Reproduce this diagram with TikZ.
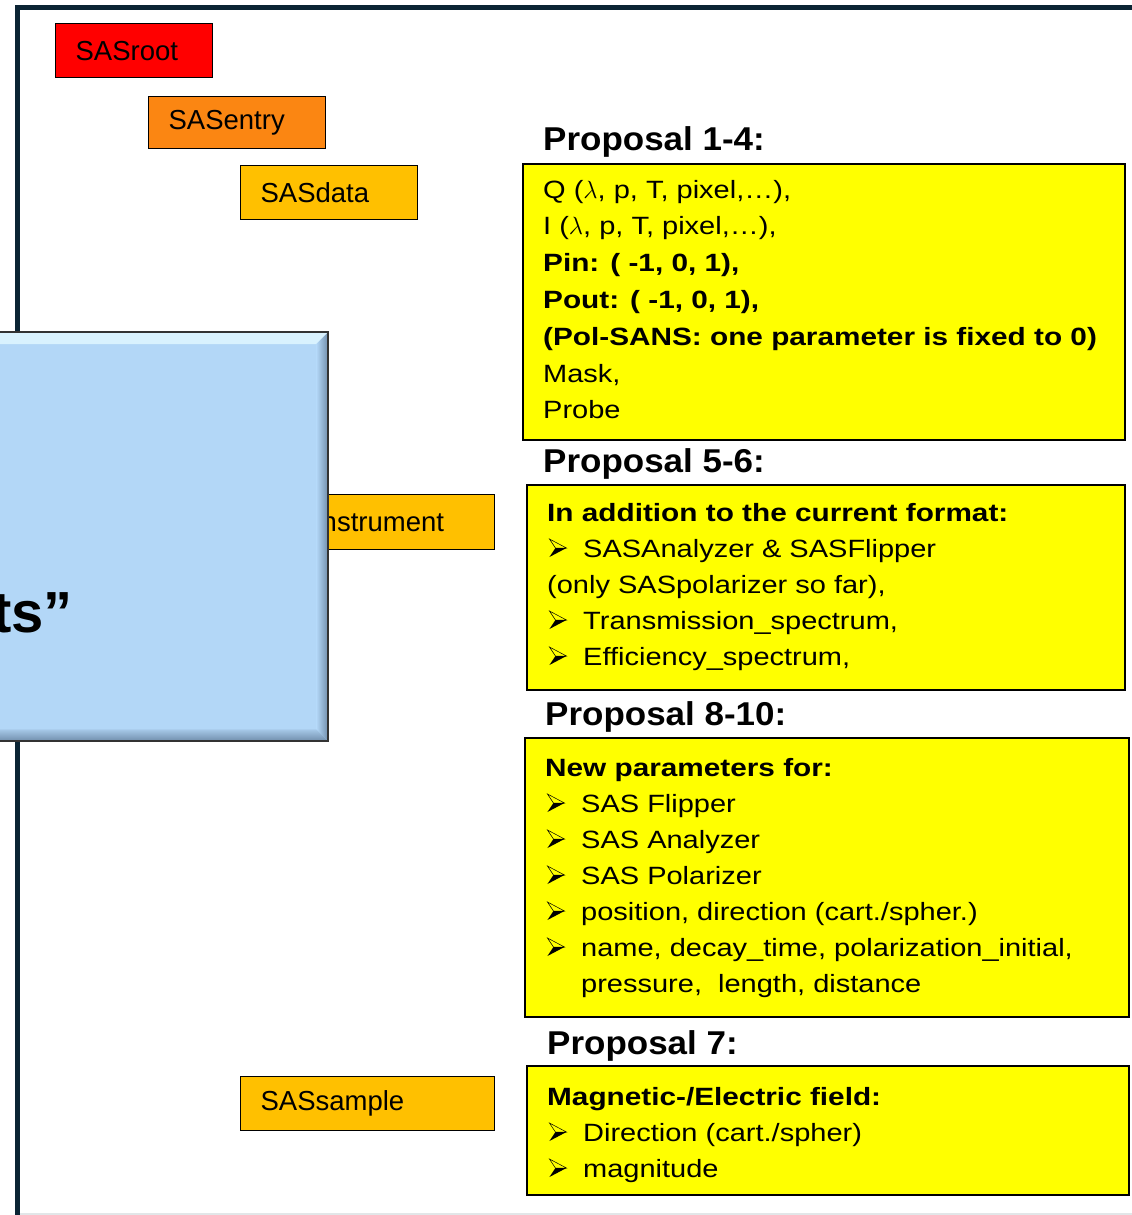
\documentclass[tikz,border=0pt]{standalone}
\usepackage{fontspec}
\setmainfont{Liberation Sans}
\newfontfamily\bodyfont{Liberation Sans}[FakeStretch=1.16, BoldFeatures={FakeStretch=1.19}]
\newfontfamily\headfont{Liberation Sans}[FakeStretch=1.06]
\definecolor{framenavy}{HTML}{0B2434}
\definecolor{rootred}{HTML}{FF0000}
\definecolor{entryorange}{HTML}{FB8612}
\definecolor{gold}{HTML}{FFC000}
\definecolor{noteyellow}{HTML}{FFFF00}
\definecolor{panelblue}{HTML}{B3D7F7}
\definecolor{panellight}{HTML}{D9F2FE}
\definecolor{paneldark}{HTML}{6F8CAA}
\definecolor{rulegray}{HTML}{E2E6E8}
% three-d arrowhead bullet: outlined upper half, filled lower half
\newcommand{\arrowhead}{\tikz[baseline=0pt, x=1pt, y=1pt]{%
  \fill[black] (6,9) -- (17,9) -- (0,0) -- cycle;
  \draw[black, line width=0.5pt, line join=miter] (0,18) -- (17,9) -- (6,9) -- cycle;}}
\newcommand{\bul}{\makebox[36pt][l]{\hspace{2pt}\arrowhead}}
\begin{document}
\begin{tikzpicture}[x=1pt,y=-1pt,
  tag/.style={draw=black, line width=1.2pt, anchor=north west, inner xsep=20pt,
    inner ysep=0pt, align=left, font=\fontsize{27.5}{30}\selectfont, text=black},
  notebox/.style={draw=black, line width=1.5pt, fill=noteyellow, anchor=north west,
    inner sep=0pt},
  notetext/.style={anchor=base west, inner sep=0pt, font=\bodyfont\fontsize{25}{36}\selectfont},
  heading/.style={anchor=base west, inner sep=0pt, font=\headfont\bfseries\fontsize{33}{36}\selectfont}]
\useasboundingbox (0,0) rectangle (1132,1215);

% page frame
\draw[framenavy, line width=5pt] (17.5,1215) -- (17.5,7.5) -- (1132,7.5);
\draw[rulegray, line width=2pt] (20,1213.5) -- (1132,1213.5);

% class tags
\node[tag, fill=rootred, text width=117pt, minimum height=54pt] (root) at (55,23) {SASroot};
\node[tag, fill=entryorange, text width=137pt, minimum height=52pt] (entry) at (148,96) {SASentry};
\node[tag, fill=gold, text width=137pt, minimum height=54pt] (data) at (240,165) {SASdata};
\node[tag, fill=gold, text width=214pt, minimum height=55pt] (instr) at (240,494) {SASinstrument};
\node[tag, fill=gold, text width=214pt, minimum height=54pt] (sample) at (240,1076) {SASsample};

% bevelled panel
\node[draw=none, fill=panelblue, anchor=north west, minimum width=338pt, minimum height=409pt,
  inner sep=0pt] (panel) at (-10,332) {};
\fill[panellight] (panel.north west) -- (panel.north east) -- ([xshift=-12pt,yshift=-12pt]panel.north east)
  -- ([yshift=-12pt]panel.north west) -- cycle;
\shade[left color=panelblue, right color=paneldark] ([xshift=-12pt,yshift=-12pt]panel.north east)
  -- (panel.north east) -- (panel.south east) -- ([xshift=-12pt,yshift=12pt]panel.south east) -- cycle;
\shade[top color=panelblue!80!paneldark, bottom color=paneldark] ([yshift=12pt]panel.south west)
  -- ([xshift=-12pt,yshift=12pt]panel.south east) -- (panel.south east) -- (panel.south west) -- cycle;
\draw[black!80, line width=2pt] (panel.north west) -- (panel.north east) -- (panel.south east) -- (panel.south west);
\node[anchor=base east, inner sep=0pt, font=\bfseries\fontsize{58}{60}\selectfont] (paneltext) at (73,632) {ts”};

% proposals
\node[heading] (h1) at (543,150) {Proposal 1-4:};
\node[notebox, minimum width=602pt, minimum height=276pt] (b1) at (522,163) {};
\node[notetext] (t1) at (543,198) {\parbox[t]{580pt}{\baselineskip=36.8pt
Q ($\lambda$, p, T, pixel,…),\\
I ($\lambda$, p, T, pixel,…),\\
\textbf{Pin: ( -1, 0, 1),}\\
\textbf{Pout: ( -1, 0, 1),}\\
\textbf{(Pol-SANS: one parameter is fixed to 0)}\\
Mask,\\
Probe}};

\node[heading] (h2) at (543,472) {Proposal 5-6:};
\node[notebox, minimum width=598pt, minimum height=205pt] (b2) at (526,484) {};
\node[notetext] (t2) at (547,521) {\parbox[t]{570pt}{%
\textbf{In addition to the current format:}\\
\bul SASAnalyzer \& SASFlipper\\
(only SASpolarizer so far),\\
\bul Transmission\_spectrum,\\
\bul Efficiency\_spectrum,}};

\node[heading] (h3) at (545,725) {Proposal 8-10:};
\node[notebox, minimum width=604pt, minimum height=279pt] (b3) at (524,737) {};
\node[notetext] (t3) at (545,776) {\parbox[t]{580pt}{%
\textbf{New parameters for:}\\
\bul SAS Flipper\\
\bul SAS Analyzer\\
\bul SAS Polarizer\\
\bul position, direction (cart./spher.)\\
\bul name, decay\_time, polarization\_initial,\\
\hspace*{36pt}pressure,\ \ length, distance}};

\node[heading] (h4) at (547,1054) {Proposal 7:};
\node[notebox, minimum width=602pt, minimum height=129pt] (b4) at (526,1065) {};
\node[notetext] (t4) at (547,1105) {\parbox[t]{570pt}{%
\textbf{Magnetic-/Electric field:}\\
\bul Direction (cart./spher)\\
\bul magnitude}};
\end{tikzpicture}
\end{document}
